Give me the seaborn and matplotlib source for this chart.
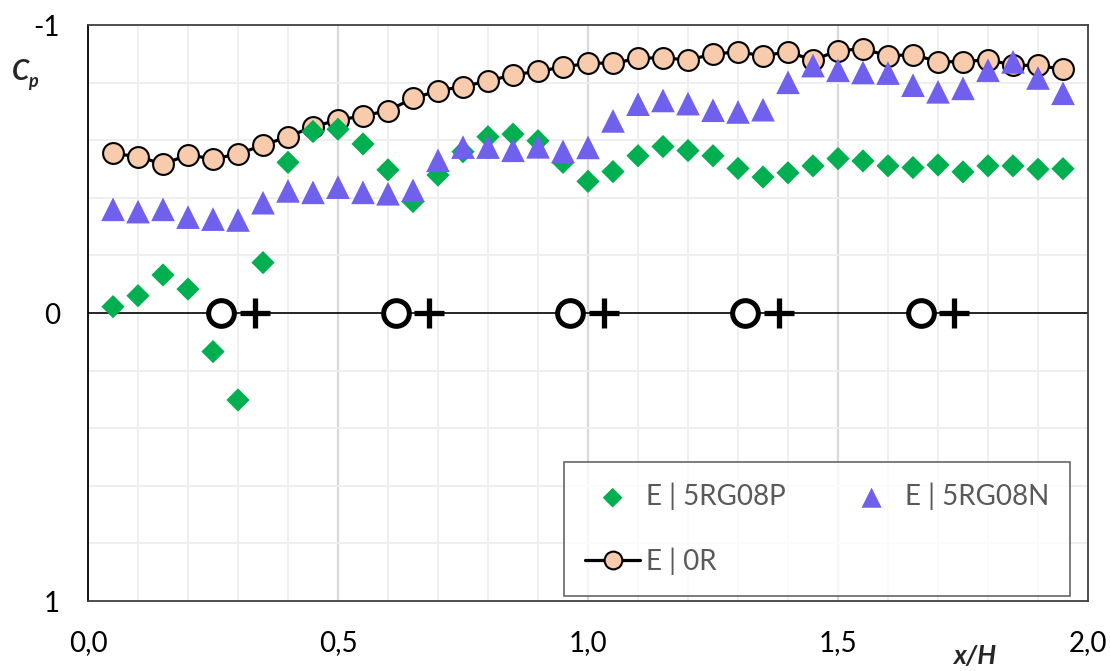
import numpy as np
import pandas as pd
import matplotlib
matplotlib.use("Agg")
import matplotlib.pyplot as plt
import seaborn as sns

# x/H positions of the taps
x_pos = [round(0.05 * i, 2) for i in range(1, 40)]

# Cp values
cp_0r = [-0.554, -0.543, -0.517, -0.549, -0.535, -0.552, -0.583, -0.612, -0.647, -0.670,
         -0.684, -0.703, -0.745, -0.772, -0.786, -0.806, -0.826, -0.840, -0.853, -0.868,
         -0.867, -0.884, -0.887, -0.878, -0.899, -0.907, -0.893, -0.907, -0.878, -0.911,
         -0.917, -0.893, -0.897, -0.873, -0.872, -0.880, -0.860, -0.860, -0.846]
cp_p = [-0.022, -0.060, -0.132, -0.083, 0.134, 0.302, -0.175, -0.523, -0.630, -0.638,
        -0.587, -0.497, -0.387, -0.479, -0.560, -0.612, -0.621, -0.598, -0.523, -0.457,
        -0.491, -0.546, -0.578, -0.564, -0.546, -0.502, -0.472, -0.487, -0.511, -0.536,
        -0.528, -0.511, -0.505, -0.514, -0.490, -0.511, -0.511, -0.499, -0.501]
cp_n = [-0.360, -0.352, -0.360, -0.333, -0.326, -0.323, -0.383, -0.424, -0.419, -0.437,
        -0.419, -0.414, -0.426, -0.530, -0.576, -0.576, -0.565, -0.577, -0.561, -0.575,
        -0.667, -0.725, -0.738, -0.727, -0.704, -0.698, -0.706, -0.801, -0.859, -0.843,
        -0.835, -0.833, -0.791, -0.768, -0.780, -0.843, -0.872, -0.816, -0.763]

# O+ marks on the zero line
o_x = [0.266, 0.615, 0.964, 1.314, 1.665]
plus_x = [0.333, 0.682, 1.031, 1.382, 1.732]

x_ticks = [0.0, 0.5, 1.0, 1.5, 2.0]
x_labels = ["0,0", "0,5", "1,0", "1,5", "2,0"]
y_ticks = [-1, 0, 1]
y_labels = ["-1", "0", "1"]

df_0r = pd.DataFrame({"x": x_pos, "cp": cp_0r})
df_p = pd.DataFrame({"x": x_pos, "cp": cp_p})
df_n = pd.DataFrame({"x": x_pos, "cp": cp_n})

sns.set_style("white")
plt.rcParams["font.family"] = ["Lato", "DejaVu Sans"]

fig = plt.figure(figsize=(11.1, 6.71), dpi=100)
ax = fig.add_axes([88 / 1110, 1 - 601 / 671, 1000 / 1110, 576 / 671])

# grid
for xv in np.arange(0.1, 2.0, 0.1):
    major = abs(xv * 2 - round(xv * 2)) < 1e-6
    ax.axvline(xv, color="#d9d9d9" if major else "#efefef", lw=1.6 if major else 1.4, zorder=0)
for yv in np.arange(-0.8, 1.0, 0.2):
    if abs(yv) > 1e-6:
        ax.axhline(yv, color="#efefef", lw=1.4, zorder=0)
ax.axhline(0, color="black", lw=1.2, zorder=1)

sns.lineplot(data=df_0r, x="x", y="cp", ax=ax, color="black", lw=2.3,
             marker="o", markersize=15, markerfacecolor="#f8cbad",
             markeredgecolor="black", markeredgewidth=1.5, label="E | 0R", zorder=2)
sns.scatterplot(data=df_p, x="x", y="cp", ax=ax, marker="D", s=140, color="#00b050",
                edgecolor="none", label="E | 5RG08P", zorder=3)
sns.scatterplot(data=df_n, x="x", y="cp", ax=ax, marker="^", s=290, color="#7060ee",
                edgecolor="none", label="E | 5RG08N", zorder=4)

ax.plot(o_x, [0] * len(o_x), ls="none", marker="o", markersize=18.5,
        markerfacecolor="white", markeredgecolor="black", markeredgewidth=3.6, zorder=5)
ax.plot(plus_x, [0] * len(plus_x), ls="none", marker="+", markersize=21,
        markeredgecolor="black", markeredgewidth=3.8, zorder=5)

ax.set_xlim(0, 2)
ax.set_ylim(1, -1)
ax.set_xticks(x_ticks)
ax.set_xticklabels(x_labels)
ax.set_yticks(y_ticks)
ax.set_yticklabels(y_labels)
ax.tick_params(axis="both", length=0, labelsize=20, colors="black")
ax.tick_params(axis="x", pad=21)
ax.tick_params(axis="y", pad=20)
ax.set_xlabel("")
ax.set_ylabel("")
for sp in ax.spines.values():
    sp.set_visible(True)
    sp.set_color("#404040")
    sp.set_linewidth(1.3)
ax.spines["left"].set_color("black")

fig.text(12 / 1110, 1 - 80 / 671, "C", fontsize=20, fontweight="bold", style="italic",
         ha="left", va="baseline")
fig.text(28 / 1110, 1 - 87 / 671, "p", fontsize=13, fontweight="bold", style="italic",
         ha="left", va="baseline")
fig.text(975 / 1110, 1 - 656 / 671, "x/H", fontsize=19, fontweight="bold", style="italic",
         ha="center", va="center")

handles, labels = ax.get_legend_handles_labels()
order = [labels.index("E | 5RG08P"), labels.index("E | 0R"), labels.index("E | 5RG08N")]
leg = ax.legend([handles[i] for i in order], [labels[i] for i in order], ncol=2,
                loc="lower left", bbox_to_anchor=(0.476, 0.009, 0.506, 0.238), mode="expand",
                frameon=True, fancybox=False, edgecolor="#404040", fontsize=20,
                labelcolor="#595959", handlelength=2.0, handletextpad=0.2,
                labelspacing=1.35, borderpad=0.75, markerscale=0.85, borderaxespad=0)
leg.get_frame().set_linewidth(1.2)

fig.savefig("out.png", dpi=100)
